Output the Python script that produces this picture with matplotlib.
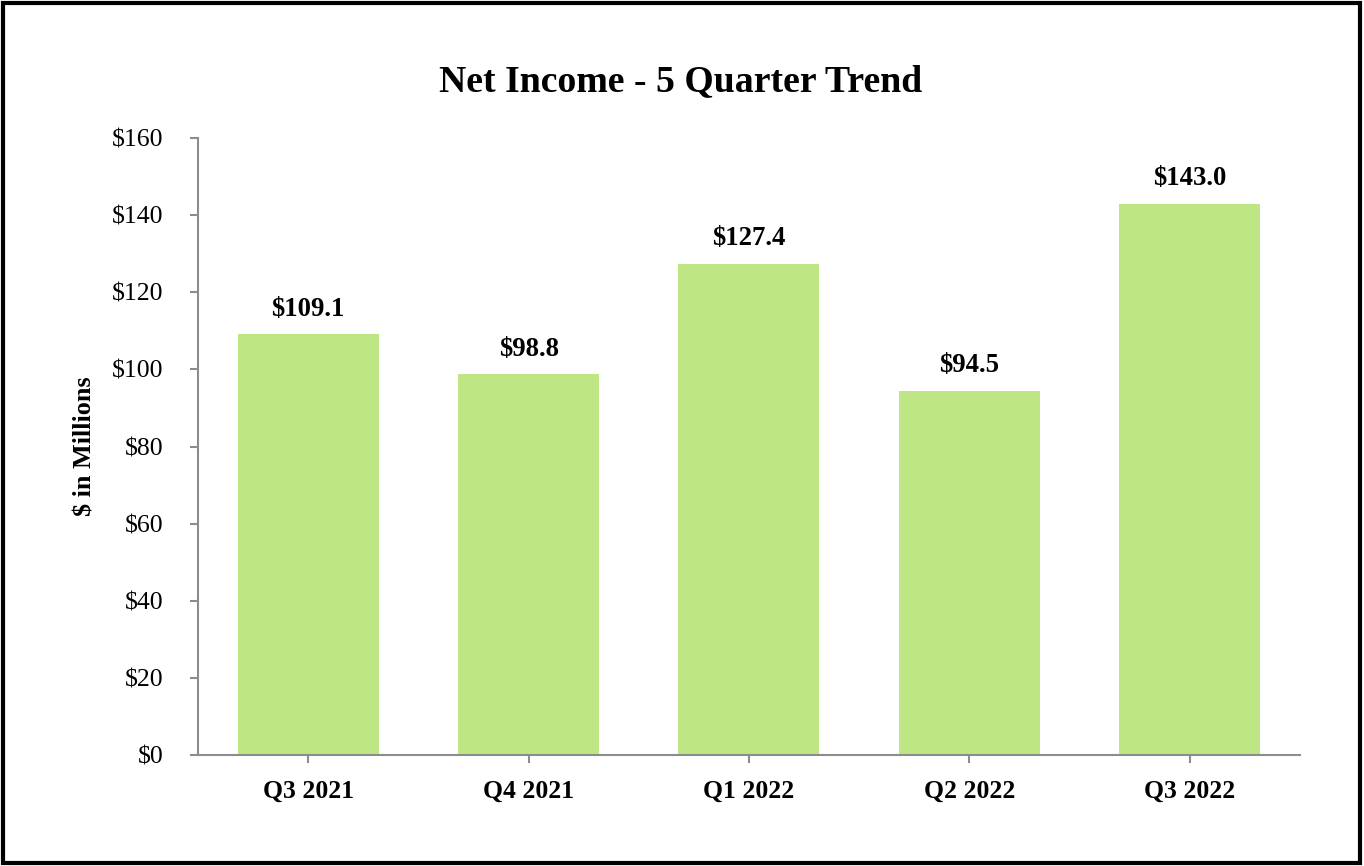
import matplotlib.pyplot as plt
import numpy as np

quarters = ['Q3 2021', 'Q4 2021', 'Q1 2022', 'Q2 2022', 'Q3 2022']
net_income = [109.1, 98.8, 127.4, 94.5, 143.0]
y_ticks = [0, 20, 40, 60, 80, 100, 120, 140, 160]

plt.rcParams['font.family'] = ['Liberation Serif', 'DejaVu Serif']

fig = plt.figure(figsize=(13.64, 8.66), dpi=100)
ax = fig.add_axes([0.1452, 0.1282, 0.8078, 0.7124])

x = np.arange(len(quarters))
bars = ax.bar(x, net_income, width=0.64, color='#bfe685')

for xi, v in zip(x, net_income):
    ax.annotate('${:.1f}'.format(v), (xi, v), xytext=(0, 9), textcoords='offset points',
                ha='center', va='bottom', fontsize=19.3, fontweight='bold')

ax.set_xlim(-0.5, len(quarters) - 0.5)
ax.set_ylim(0, 160)
ax.set_yticks(y_ticks)
ax.set_yticklabels(['${}'.format(t) for t in y_ticks], fontsize=18.5)
ax.set_xticks(x)
ax.set_xticklabels(quarters, fontsize=18.5, fontweight='bold')
ax.tick_params(axis='both', color='#8c8c8c', length=6, width=1.5)
ax.tick_params(axis='y', pad=19)
ax.tick_params(axis='x', pad=12)

for s in ['top', 'right']:
    ax.spines[s].set_visible(False)
for s in ['left', 'bottom']:
    ax.spines[s].set_color('#8c8c8c')
    ax.spines[s].set_linewidth(1.5)

ax.set_ylabel('$ in Millions', fontsize=18.8, fontweight='bold', labelpad=11)
fig.text(0.4993, 0.906, 'Net Income - 5 Quarter Trend', ha='center', va='center',
         fontsize=27.2, fontweight='bold')

border = plt.Rectangle((0.002, 0.003), 0.995, 0.993, transform=fig.transFigure,
                       fill=False, edgecolor='black', linewidth=3)
fig.patches.append(border)

fig.savefig('out.png', dpi=100)
